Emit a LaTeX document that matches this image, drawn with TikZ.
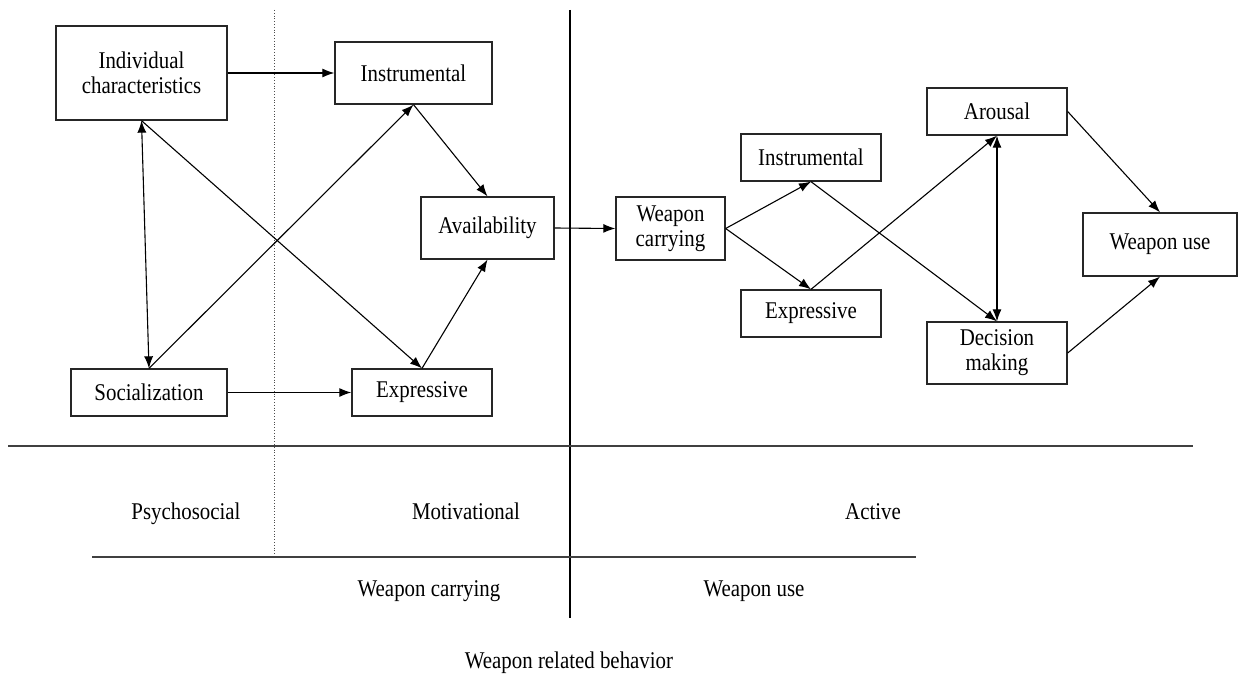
\documentclass[tikz,border=0pt]{standalone}
\usepackage{fontspec}
\setmainfont{Liberation Serif}[FakeStretch=0.87]
\usetikzlibrary{arrows.meta}
\begin{document}
\begin{tikzpicture}[x=1pt,y=-1pt,
  box/.style={draw=black!85, line width=1.3pt, inner sep=0pt, align=center, font=\fontsize{24}{25}\selectfont},
  lbl/.style={inner sep=0pt, anchor=base, font=\fontsize{24}{25}\selectfont},
  arr/.style={line width=1.1pt, -{Latex[length=12pt,width=9pt]}},
  darr/.style={line width=1.1pt, {Latex[length=12pt,width=9pt]}-{Latex[length=12pt,width=9pt]}},
  rule/.style={line width=1.8pt, draw=black!75}]
\useasboundingbox (0,0) rectangle (1239,674);
% dividers
\coordinate (d1) at (274,10); \coordinate (d2) at (274,557);
\coordinate (s1) at (570,10); \coordinate (s2) at (570,618);
\coordinate (h1) at (8,446); \coordinate (h2) at (1193,446);
\coordinate (g1) at (92,557); \coordinate (g2) at (916,557);
\draw[dotted, line width=0.8pt, black!70] (d1) -- (d2);
\draw[line width=1.2pt] (s1) -- (s2);
\draw[rule] (h1) -- (h2);
\draw[rule] (g1) -- (g2);
% boxes
\node[box, minimum width=171pt, minimum height=94pt] (ind) at (141.5,73) {Individual\\characteristics};
\node[box, minimum width=157pt, minimum height=62pt] (insL) at (413.5,73) {Instrumental};
\node[box, minimum width=133pt, minimum height=62pt] (avail) at (487.5,228) {Availability};
\node[box, minimum width=156pt, minimum height=47pt] (soc) at (149,392.5) {Socialization};
\node[box, minimum width=140pt, minimum height=47pt] (expL) at (422,392.5) {Expressive};
\node[box, minimum width=109pt, minimum height=63pt] (wc) at (670.5,228.5) {Weapon\\carrying};
\node[box, minimum width=140pt, minimum height=47pt] (insR) at (811,157.5) {Instrumental};
\node[box, minimum width=140pt, minimum height=47pt] (expR) at (811,313.5) {Expressive};
\node[box, minimum width=140pt, minimum height=47pt] (aro) at (997,111.5) {Arousal};
\node[box, minimum width=140pt, minimum height=62pt] (dec) at (997,353) {Decision\\making};
\node[box, minimum width=154pt, minimum height=63pt] (wu) at (1160,244.5) {Weapon use};
% connectors
\draw[arr] (ind.east) -- (insL.west);
\draw[arr] (insL.south) -- (avail.north);
\draw[arr] (expL.north) -- (avail.south);
\draw[arr] (soc.north) -- (insL.south);
\draw[darr] (ind.south) -- (soc.north);
\draw[arr] (ind.south) -- (expL.north);
\draw[arr] (soc.east) -- (expL.west);
\draw[arr] (avail.east) -- (wc.west);
\draw[arr] (wc.east) -- (insR.south);
\draw[arr] (wc.east) -- (expR.north);
\draw[arr] (insR.south) -- (dec.north);
\draw[arr] (expR.north) -- (aro.south);
\draw[darr] (aro.south) -- (dec.north);
\draw[arr] (aro.east) -- (wu.north);
\draw[arr] (dec.east) -- (wu.south);
% labels
\node[lbl] (l1) at (186,519) {Psychosocial};
\node[lbl] (l2) at (466,519) {Motivational};
\node[lbl] (l3) at (873,519) {Active};
\node[lbl] (l4) at (429,596) {Weapon carrying};
\node[lbl] (l5) at (754,596) {Weapon use};
\node[lbl] (l6) at (569,668) {Weapon related behavior};
\end{tikzpicture}
\end{document}
